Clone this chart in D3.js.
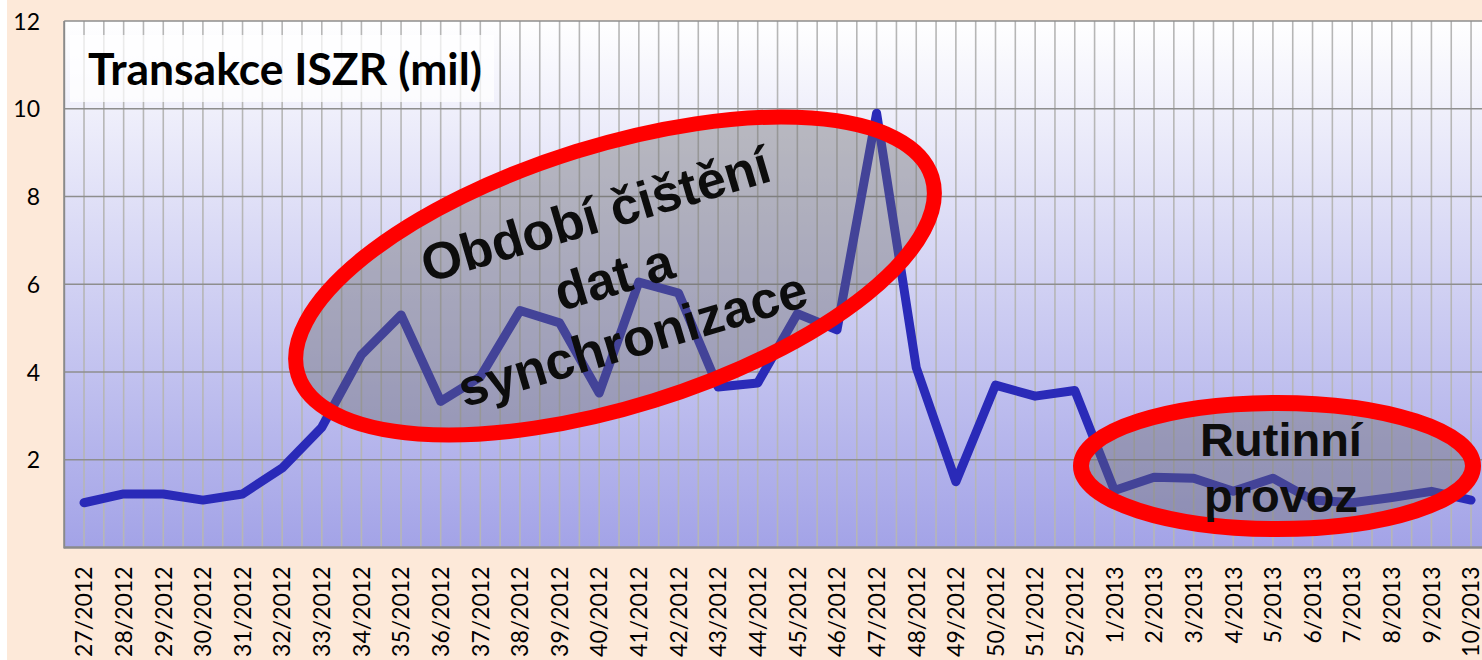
<!DOCTYPE html>
<html>
<head>
<meta charset="utf-8">
<script src="https://cdn.jsdelivr.net/npm/d3@7"></script>
<style>
  html, body { margin: 0; padding: 0; background: #fff; overflow: hidden; }
  svg { display: block; }
</style>
</head>
<body>
<div id="chart"></div>
<script>
// --- data ---
var weeks = ['27/2012','28/2012','29/2012','30/2012','31/2012','32/2012','33/2012','34/2012',
             '35/2012','36/2012','37/2012','38/2012','39/2012','40/2012','41/2012','42/2012',
             '43/2012','44/2012','45/2012','46/2012','47/2012','48/2012','49/2012','50/2012',
             '51/2012','52/2012','1/2013','2/2013','3/2013','4/2013','5/2013','6/2013',
             '7/2013','8/2013','9/2013','10/2013'];
var transactions = [1.02, 1.22, 1.22, 1.08, 1.22, 1.81, 2.74, 4.39,
                    5.3, 3.33, 3.89, 5.4, 5.12, 3.52, 6.05, 5.8,
                    3.66, 3.75, 5.33, 4.96, 9.9, 4.1, 1.5, 3.7,
                    3.45, 3.58, 1.3, 1.6, 1.58, 1.28, 1.58, 1.08,
                    1.02, 1.14, 1.28, 1.08];
var yTicks = [2, 4, 6, 8, 10, 12];
var chartTitle = 'Transakce ISZR (mil)';
var noteCleaning = ['Období čištění', 'dat a', 'synchronizace'];
var noteRoutine = ['Rutinní', 'provoz'];

// --- settings ---
var W = 1482, H = 660;
var plotLeft = 64.2, plotTop = 21, plotBottom = 547.5;
var band = 39.63;
var lineColor = '#2a2ab8',
    tickFont = 'Lato, "Open Sans", sans-serif',
    noteFont = '"Liberation Sans", Arial, sans-serif';

var svg = d3.select('#chart').append('svg')
    .attr('width', W).attr('height', H);

// background
svg.append('rect').attr('x', 7).attr('y', 0).attr('width', W - 7).attr('height', H)
    .attr('fill', '#fde9d9');

var x = d3.scaleBand().domain(weeks)
    .range([plotLeft, plotLeft + band * weeks.length]).padding(0);
var y = d3.scaleLinear().domain([0, 12]).range([plotBottom, plotTop]);

var defs = svg.append('defs');
var grad = defs.append('linearGradient').attr('id', 'plotGrad')
    .attr('x1', 0).attr('y1', 0).attr('x2', 0).attr('y2', 1);
grad.append('stop').attr('offset', '0%').attr('stop-color', '#ffffff');
grad.append('stop').attr('offset', '100%').attr('stop-color', '#a3a3e7');

var plotRight = x.range()[1];
svg.append('rect')
    .attr('x', plotLeft).attr('y', y(12))
    .attr('width', plotRight - plotLeft).attr('height', y(0) - y(12))
    .attr('fill', 'url(#plotGrad)');

// vertical gridlines: band edges and band centres
var vLines = [];
weeks.forEach(function(w, i) {
    if (i > 0) vLines.push(x(w));
    vLines.push(x(w) + x.bandwidth() / 2);
});
vLines.push(plotRight);
svg.append('g').selectAll('line').data(vLines).enter().append('line')
    .attr('x1', function(d){ return d; }).attr('x2', function(d){ return d; })
    .attr('y1', y(12)).attr('y2', y(0))
    .attr('stroke', '#b6b6b6').attr('stroke-width', 1.6);

// horizontal major gridlines
svg.append('g').selectAll('line').data(yTicks).enter().append('line')
    .attr('x1', plotLeft).attr('x2', plotRight)
    .attr('y1', function(d){ return y(d); }).attr('y2', function(d){ return y(d); })
    .attr('stroke', '#8e8e8e').attr('stroke-width', 1.6);

// axes lines
svg.append('line').attr('x1', plotLeft).attr('x2', plotLeft)
    .attr('y1', y(12)).attr('y2', y(0) + 1)
    .attr('stroke', '#8a8a8a').attr('stroke-width', 2);
svg.append('line').attr('x1', plotLeft).attr('x2', plotRight)
    .attr('y1', y(0)).attr('y2', y(0))
    .attr('stroke', '#8a8a8a').attr('stroke-width', 2.4);

// y axis labels
var yAxis = d3.axisLeft(y).tickValues(yTicks).tickSize(0).tickPadding(0);
var gy = svg.append('g').attr('transform', 'translate(40,0)').call(yAxis);
gy.select('.domain').remove();
gy.selectAll('text')
    .attr('font-family', tickFont).attr('font-size', 23).attr('fill', '#000')
    .attr('dy', '0.35em');

// x axis labels (rotated)
var xAxis = d3.axisBottom(x).tickSize(0).tickPadding(0);
var gx = svg.append('g').attr('transform', 'translate(0,' + y(0) + ')').call(xAxis);
gx.select('.domain').remove();
gx.selectAll('text')
    .attr('font-family', tickFont).attr('font-size', 23).attr('fill', '#000')
    .attr('transform', 'rotate(-90)')
    .attr('text-anchor', 'end')
    .attr('x', -19).attr('y', 0).attr('dy', '0.36em');

// title with faded box
var titleBox = svg.append('rect')
    .attr('x', 70).attr('y', 35).attr('width', 424).attr('height', 67)
    .attr('fill', '#fff').attr('opacity', 0.72);
var title = svg.append('text')
    .attr('x', 88).attr('y', 85)
    .attr('font-family', tickFont).attr('font-weight', 700)
    .attr('font-size', 39).attr('fill', '#000')
    .text(chartTitle);
// fit title width to the reference
var tl = title.node().getComputedTextLength();
title.attr('font-size', 39 * 394 / tl);

// series line
var line = d3.line()
    .x(function(d, i){ return x(weeks[i]) + x.bandwidth() / 2; })
    .y(function(d){ return y(d); });
svg.append('path').datum(transactions)
    .attr('d', line)
    .attr('fill', 'none').attr('stroke', lineColor)
    .attr('stroke-width', 9)
    .attr('stroke-linejoin', 'round').attr('stroke-linecap', 'round');

// note ellipses
var noteFill = 'rgba(105,105,105,0.4)';

var g1 = svg.append('g').attr('transform', 'translate(615,276) rotate(-17.3)');
g1.append('ellipse').attr('rx', 332).attr('ry', 130.5)
    .attr('fill', noteFill).attr('stroke', '#ff0000').attr('stroke-width', 15);

var g1t = svg.append('g').attr('transform', 'translate(619,294) rotate(-16.5)');
g1t.selectAll('text').data(noteCleaning).enter().append('text')
    .attr('x', 0).attr('y', function(d, i){ return (i - 1) * 65; })
    .attr('text-anchor', 'middle')
    .attr('font-family', noteFont).attr('font-weight', 700)
    .attr('font-size', 52).attr('fill', '#0d0d0d')
    .text(function(d){ return d; });

var g2 = svg.append('g').attr('transform', 'translate(1277,466)');
g2.append('ellipse').attr('rx', 196).attr('ry', 63)
    .attr('fill', noteFill).attr('stroke', '#ff0000').attr('stroke-width', 16);
g2.selectAll('text').data(noteRoutine).enter().append('text')
    .attr('x', 4).attr('y', function(d, i){ return i === 0 ? -10 : 46; })
    .attr('text-anchor', 'middle')
    .attr('font-family', noteFont).attr('font-weight', 700)
    .attr('font-size', 47).attr('fill', '#0d0d0d')
    .text(function(d){ return d; });
</script>
</body>
</html>
